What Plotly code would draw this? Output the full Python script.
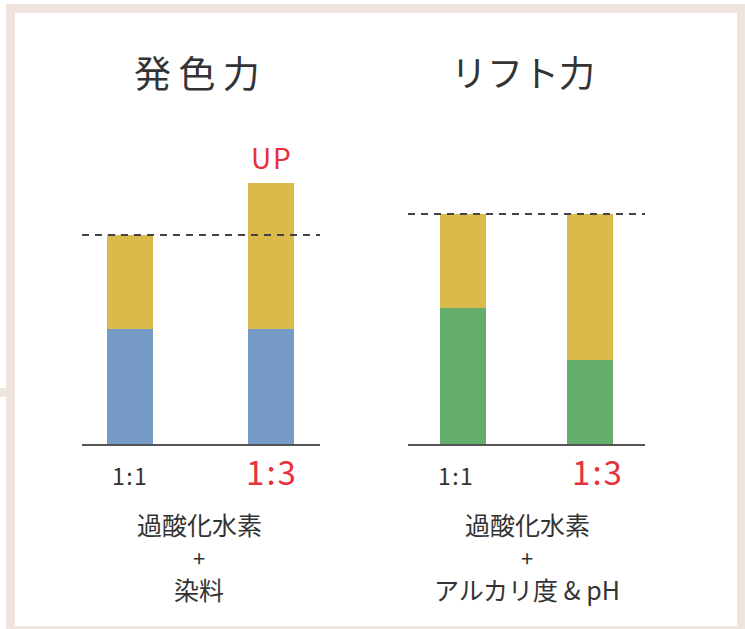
import plotly.graph_objects as go

W, H = 745, 629

categories = ["1:1", "1:3"]
tick_text = ["1\u200a:\u200a1", "1\u200a:\u200a3"]
left_title = "発\u2009色\u2009力"
right_title = "リフト力"
left_base = [55, 55]        # blue
left_top = [45, 70]         # yellow
right_base = [65, 40]       # green
right_top = [45, 70]        # yellow
left_ref = 100
right_ref = 110
left_caption = ["過酸化水素", "+", "染料"]
right_caption = ["過酸化水素", "+", "アルカリ度 & pH"]

BLUE = "#769BC6"
YELLOW = "#DABA4A"
GREEN = "#64AD6B"
RED = "#E8303A"
DARK = "#333333"
FRAME = "#EFE4DE"
FONT = "Noto Sans CJK JP"

def px(x):
    return x / W

def py(y):
    return 1 - y / H

fig = go.Figure()
fig.add_trace(go.Bar(x=categories, y=left_base, marker_color=BLUE, width=0.326,
                     xaxis="x", yaxis="y", showlegend=False, marker_line_width=0))
fig.add_trace(go.Bar(x=categories, y=left_top, marker_color=YELLOW, width=0.326,
                     xaxis="x", yaxis="y", showlegend=False, marker_line_width=0))
fig.add_trace(go.Bar(x=categories, y=right_base, marker_color=GREEN, width=0.362,
                     xaxis="x2", yaxis="y2", showlegend=False, marker_line_width=0))
fig.add_trace(go.Bar(x=categories, y=right_top, marker_color=YELLOW, width=0.362,
                     xaxis="x2", yaxis="y2", showlegend=False, marker_line_width=0))

ydom = [py(444), py(100)]
yrange = [0, 164.6]
axis_common = dict(showgrid=False, zeroline=False, showticklabels=False, ticks="",
                   showline=True, linecolor="#555555", linewidth=2, fixedrange=True)

fig.update_layout(
    width=W, height=H, margin=dict(l=0, r=0, t=0, b=0),
    paper_bgcolor="white", plot_bgcolor="rgba(0,0,0,0)",
    barmode="stack", bargap=0,
    font=dict(family=FONT, color=DARK),
    xaxis=dict(domain=[px(82), px(320)], range=[-0.340, 1.348], anchor="y",
               type="category", **axis_common),
    yaxis=dict(domain=ydom, range=yrange, visible=False, anchor="x", fixedrange=True),
    xaxis2=dict(domain=[px(408), px(645)], range=[-0.433, 1.433], anchor="y2",
                type="category", **axis_common),
    yaxis2=dict(domain=ydom, range=yrange, visible=False, anchor="x2", fixedrange=True),
)

shapes = []
# frame
shapes.append(dict(type="rect", xref="paper", yref="paper",
                   x0=px(10.5), x1=px(741.5), y0=py(630.5), y1=py(8.5),
                   line=dict(color=FRAME, width=9), fillcolor="rgba(0,0,0,0)", layer="below"))
shapes.append(dict(type="rect", xref="paper", yref="paper",
                   x0=0, x1=px(8), y0=py(397), y1=py(388),
                   line=dict(width=0), fillcolor=FRAME, layer="below"))
# reference dashed lines
shapes.append(dict(type="line", xref="x domain", yref="y", x0=0, x1=1,
                   y0=left_ref, y1=left_ref,
                   line=dict(color="#444444", width=2, dash="7px,6px")))
shapes.append(dict(type="line", xref="x2 domain", yref="y2", x0=0, x1=1,
                   y0=right_ref, y1=right_ref,
                   line=dict(color="#444444", width=2, dash="7px,6px")))
fig.update_layout(shapes=shapes)

ann = []
def add(text, xref, x, y, size, color=DARK, xshift=0):
    ann.append(dict(text=text, xref=xref, yref="paper", x=x, y=py(y), xshift=xshift,
                    xanchor="center", yanchor="middle", showarrow=False,
                    font=dict(size=size, color=color)))

add(left_title, "paper", px(197), 72, 37)
add(right_title, "paper", px(523), 71, 36)
add("U\u200aP", "x", categories[1], 157, 28, RED)
# tick labels
for xr, shifts in (("x", (0, 0)), ("x2", (-8, 7))):
    add(tick_text[0], xr, categories[0], 475, 23, DARK, shifts[0])
    add(tick_text[1], xr, categories[1], 471, 33, RED, shifts[1])
# captions
cap_y = [524, 557, 589]
cap_size = [25, 22, 25]
for cx, lines in ((199, left_caption), (527, right_caption)):
    for t, yy, sz in zip(lines, cap_y, cap_size):
        add(t, "paper", px(cx), yy, sz)
fig.update_layout(annotations=ann)

fig.write_html("out.html", config={"displayModeBar": False},
               post_script="document.body.style.margin='0';")
